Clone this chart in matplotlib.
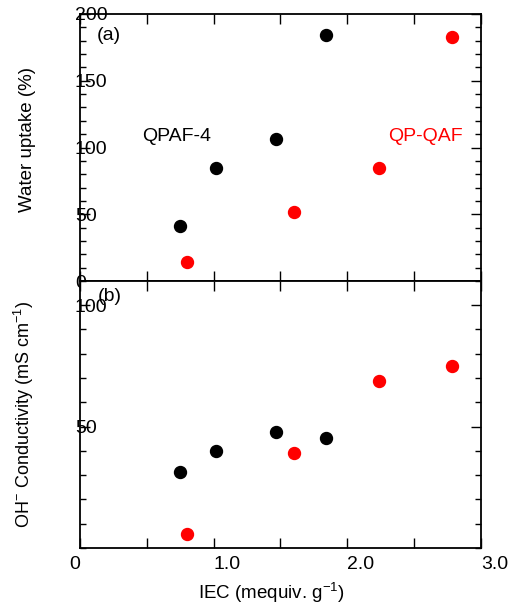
import matplotlib
matplotlib.use("Agg")
import matplotlib.pyplot as plt
from matplotlib.ticker import MultipleLocator

plt.rcParams['font.family'] = ['Liberation Sans', 'DejaVu Sans']
plt.rcParams['mathtext.fontset'] = 'custom'
plt.rcParams['mathtext.rm'] = 'Liberation Sans'
plt.rcParams['mathtext.it'] = 'Liberation Sans:italic'
plt.rcParams['font.size'] = 14

# ---------- data ----------
iec_qpaf = [0.75, 1.02, 1.47, 1.84]
wu_qpaf = [41, 85, 106, 184]
cond_qpaf = [31.4, 39.9, 47.8, 45.4]

iec_qpqaf = [0.80, 1.60, 2.24, 2.78]
wu_qpqaf = [14.5, 51.5, 85, 183]
cond_qpqaf = [5.7, 39.1, 68.6, 75.1]

x_ticks = [0, 1.0, 2.0, 3.0]
x_labels = ['0', '1.0', '2.0', '3.0']

fig = plt.figure(figsize=(5.16, 6.07), dpi=100)
ax1 = fig.add_axes([0.155, 0.537, 0.777, 0.44])
ax2 = fig.add_axes([0.155, 0.0972, 0.777, 0.44])

ms = 8.6
ax1.plot(iec_qpaf, wu_qpaf, 'o', color='black', ms=ms)
ax1.plot(iec_qpqaf, wu_qpqaf, 'o', color='#ff0000', ms=ms)
ax2.plot(iec_qpaf, cond_qpaf, 'o', color='black', ms=ms)
ax2.plot(iec_qpqaf, cond_qpqaf, 'o', color='#ff0000', ms=ms)

ax1.set_ylim(0, 200)
ax2.set_ylim(0, 110)

for ax in (ax1, ax2):
    ax.set_xlim(0, 3.0)
    for s in ax.spines.values():
        s.set_linewidth(1.3)
    ax.xaxis.set_major_locator(MultipleLocator(1.0))
    ax.xaxis.set_minor_locator(MultipleLocator(0.5))
    ax.yaxis.set_minor_locator(MultipleLocator(10))
    ax.tick_params(axis='x', which='both', direction='in', top=True, length=7, width=1)
    ax.tick_params(axis='y', which='both', direction='in', right=True, left=True, width=1)
    ax.tick_params(axis='y', which='major', length=7)
    ax.tick_params(axis='y', which='minor', length=4)

ax1.yaxis.set_major_locator(MultipleLocator(50))
ax1.tick_params(axis='x', labelbottom=False)
ax2.set_yticks([50, 100])
ax2.set_yticks(range(0, 111, 10), minor=True)

for ax in (ax1, ax2):
    ax.tick_params(axis='y', which='major', pad=3.6)
    for lab in ax.get_yticklabels():
        lab.set_horizontalalignment('left')

ax2.set_xticks(x_ticks)
ax2.set_xticklabels(x_labels)
for lab in ax2.get_xticklabels():
    lab.set_horizontalalignment('right' if lab.get_text() == '0' else 'left')
ax2.tick_params(axis='x', which='major', pad=5.5)

ax1.set_ylabel('Water uptake (%)', fontsize=13.5)
ax1.yaxis.set_label_coords(-0.11, 0.53)
ax2.set_ylabel('OH$^{-}$ Conductivity (mS cm$^{-1}$)', fontsize=13)
ax2.yaxis.set_label_coords(-0.11, 0.50)
ax2.set_xlabel('IEC (mequiv. g$^{-1}$)', fontsize=13.5)
ax2.xaxis.set_label_coords(0.478, -0.125)

ax1.text(0.043, 0.92, '(a)', transform=ax1.transAxes, va='center')
ax2.text(0.045, 0.94, '(b)', transform=ax2.transAxes, va='center')
ax1.text(0.155, 0.54, 'QPAF-4', transform=ax1.transAxes, va='center')
ax1.text(0.768, 0.54, 'QP-QAF', transform=ax1.transAxes, va='center', color='#ff0000')

fig.savefig('out.png', dpi=100)
